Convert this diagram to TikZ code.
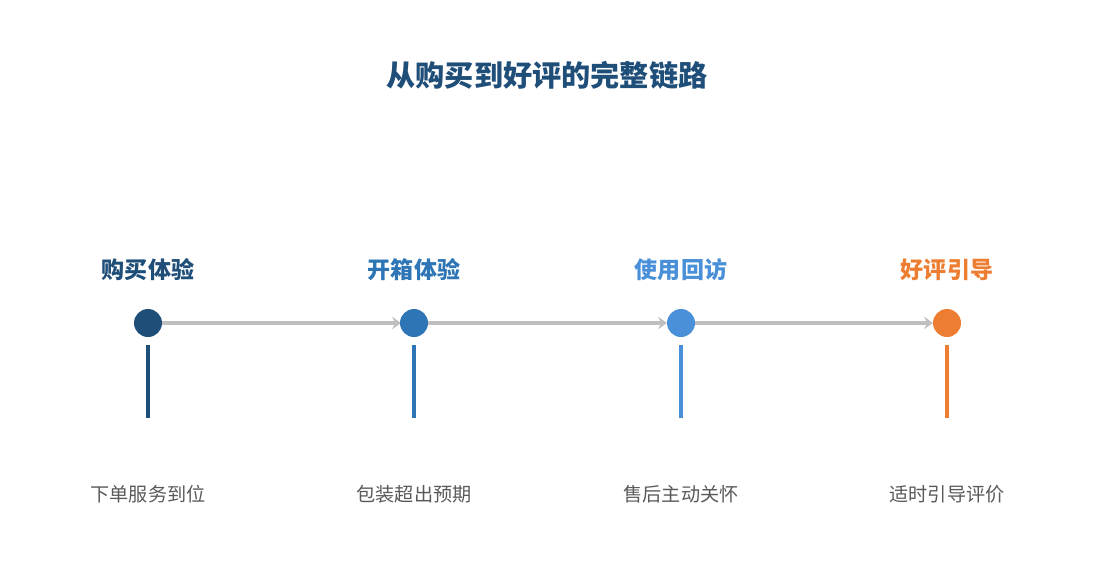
\documentclass[tikz,border=0pt]{standalone}
\usepackage{fontspec}
\setmainfont{Noto Sans CJK SC}
\usetikzlibrary{arrows.meta}
\definecolor{cA}{HTML}{1F4E79}
\definecolor{cB}{HTML}{2E75B6}
\definecolor{cC}{HTML}{4A90D9}
\definecolor{cD}{HTML}{ED7D31}
\definecolor{link}{HTML}{BFBFBF}
\definecolor{note}{HTML}{595959}
\begin{document}
\begin{tikzpicture}[x=0.02cm,y=-0.02cm,
    dot/.style={circle,fill=#1,minimum size=0.56cm,inner sep=0pt},
    stage/.style={font=\bfseries\fontsize{13.1}{16}\selectfont,text=#1},
    stem/.style={draw=#1,line width=2.2pt},
    note/.style={font=\fontsize{10.9}{13}\selectfont,text=note},
    link/.style={draw=link,line width=2pt,-{Stealth[length=5pt,width=7pt]}}]
    \useasboundingbox (0,0) rectangle (1095,585);

    % Title
    \node[font=\bfseries\fontsize{16.6}{20}\selectfont,text=cA] (title) at (547,75) {从购买到好评的完整链路};

    % Stages
    \foreach \i/\x/\c/\s/\n in {1/148/cA/购买体验/下单服务到位,2/414/cB/开箱体验/包装超出预期,3/681/cC/使用回访/售后主动关怀,4/947/cD/好评引导/适时引导评价}{
        \node[stage=\c] (s\i) at (\x,270) {\s};
        \coordinate (t\i) at (\x,345);
        \coordinate (b\i) at (\x,418);
        \draw[stem=\c] (t\i) -- (b\i);
        \node[note] (n\i) at (\x,494) {\n};
    }

    % Links between stages
    \foreach \i/\j in {1/2,2/3,3/4}
        \draw[link] (\i*266-118,323) -- (\j*266-131,323);

    % Dots on top of the links
    \foreach \i/\x/\c in {1/148/cA,2/414/cB,3/681/cC,4/947/cD}
        \node[dot=\c] (d\i) at (\x,323) {};
\end{tikzpicture}
\end{document}
